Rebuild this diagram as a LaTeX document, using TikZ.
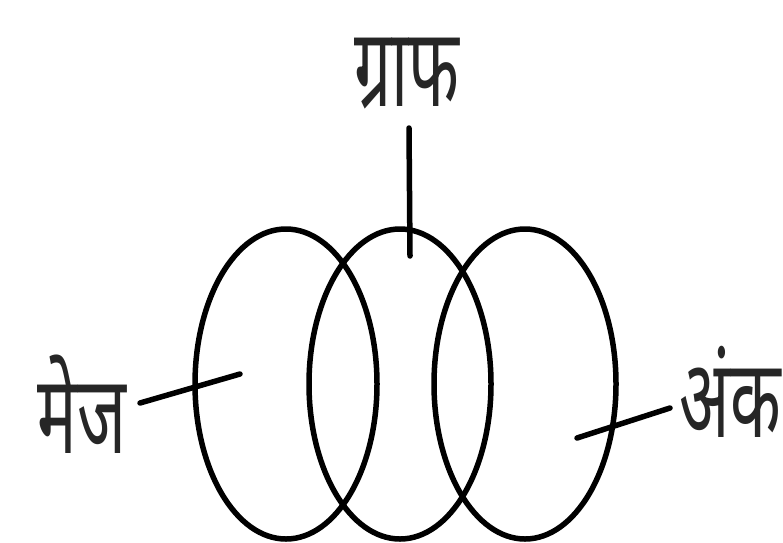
\documentclass[tikz,border=0pt]{standalone}
\usepackage{fontspec}
\newfontfamily\devfont[Script=Devanagari]{Noto Sans}
\usetikzlibrary{shapes.geometric}
\tikzset{
  ring/.style={draw=black, line width=5.5pt, ellipse, minimum width=182pt, minimum height=310pt, inner sep=0pt},
  lbl/.style={font=\devfont\fontsize{110}{110}\selectfont, inner sep=0pt, text=black!85, xscale=0.6, transform shape},
  leader/.style={line width=5.5pt, line cap=round}
}
\begin{document}
\begin{tikzpicture}[x=1pt,y=-1pt]
\useasboundingbox (0,0) rectangle (783,542);
\node[ring] (e1) at (286,384) {};
\node[ring] (e2) at (400,384) {};
\node[ring] (e3) at (525,384) {};
\node[lbl] (graph) at (407,74) {ग्राफ};
\node[lbl] (mej) at (82,404) {मेज};
\node[lbl, anchor=east] (ank) at (781,392) {अंक};
\coordinate (g1) at (409,128);
\coordinate (g2) at (410,256);
\coordinate (m1) at (140,403);
\coordinate (m2) at (240,374);
\coordinate (a1) at (577,438);
\coordinate (a2) at (670,408);
\draw[leader] (g1) -- (g2);
\draw[leader] (m1) -- (m2);
\draw[leader] (a1) -- (a2);
\end{tikzpicture}
\end{document}
